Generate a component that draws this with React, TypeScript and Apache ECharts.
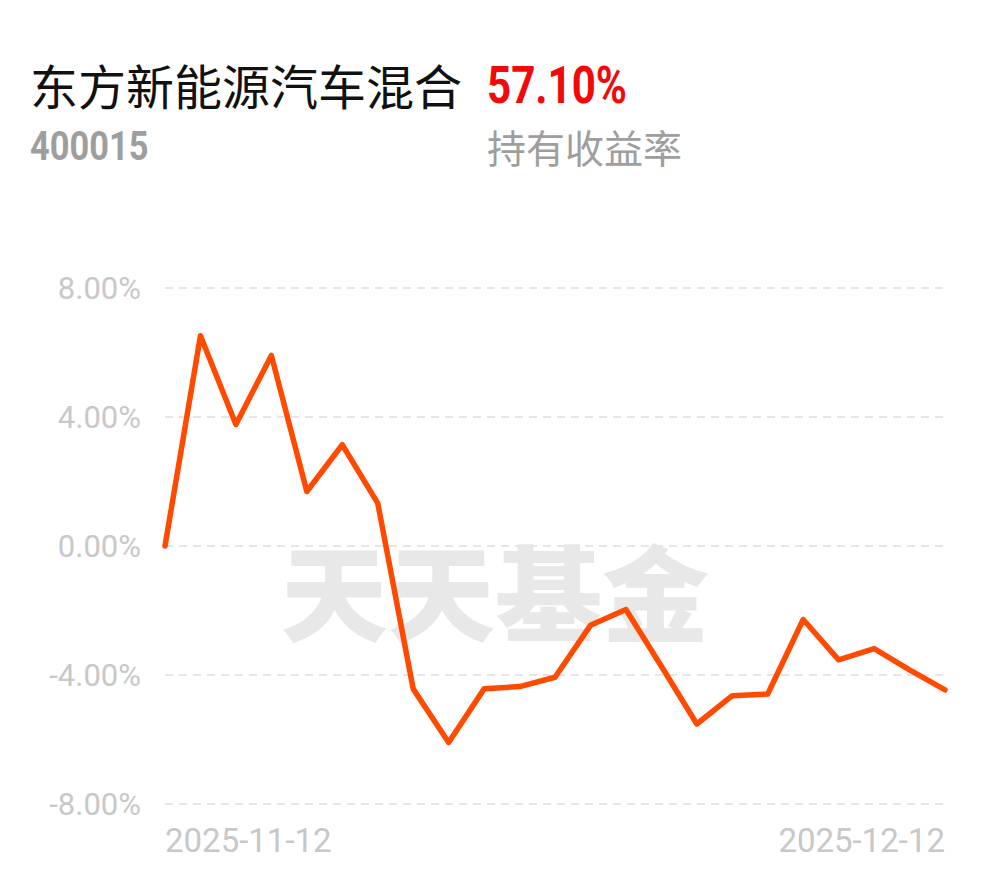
import React, { useEffect, useRef } from "react";
import * as echarts from "echarts";

const dates = [
  "2025-11-12", "2025-11-13", "2025-11-14", "2025-11-17", "2025-11-18", "2025-11-19",
  "2025-11-20", "2025-11-21", "2025-11-24", "2025-11-25", "2025-11-26", "2025-11-27",
  "2025-11-28", "2025-12-01", "2025-12-02", "2025-12-03", "2025-12-04", "2025-12-05",
  "2025-12-08", "2025-12-09", "2025-12-10", "2025-12-11", "2025-12-12",
];
const returns = [
  0.0, 6.52, 3.77, 5.91, 1.69, 3.14, 1.33, -4.43, -6.09, -4.43, -4.36, -4.07,
  -2.46, -1.97, -3.73, -5.52, -4.64, -4.59, -2.28, -3.53, -3.18, -3.84, -4.46,
];
const yTicks = { min: -8, max: 8, interval: 4 };
const fundName = "东方新能源汽车混合";
const fundCode = "400015";
const holdReturn = "57.10%";
const holdLabel = "持有收益率";
const watermark = "天天基金";

export default function App() {
  const ref = useRef<HTMLDivElement>(null);
  useEffect(() => {
    if (!ref.current) return;
    const chart = echarts.init(ref.current, null, { renderer: "svg" });
    const last = dates.length - 1;
    chart.setOption({
      animation: false,
      backgroundColor: "#ffffff",
      grid: { left: 165, right: 45, top: 288, bottom: 74, containLabel: false },
      graphic: [
        {
          type: "text",
          z: 0,
          x: 495,
          y: 589,
          scaleX: 1.03,
          style: {
            text: watermark,
            fontFamily: "Noto Sans CJK SC",
            fontWeight: 900,
            fontSize: 104,
            fill: "#e8e8e8",
            align: "center",
            verticalAlign: "middle",
          },
        },
        {
          type: "text",
          x: 30,
          y: 84,
          style: {
            text: fundName,
            fontFamily: "Noto Sans CJK SC",
            fontSize: 48,
            fill: "#111111",
            verticalAlign: "middle",
          },
        },
        {
          type: "text",
          x: 487,
          y: 85,
          scaleX: 0.81,
          style: {
            text: holdReturn,
            fontFamily: "Roboto",
            fontWeight: "bold",
            fontSize: 52,
            fill: "#f00a0a",
            verticalAlign: "middle",
          },
        },
        {
          type: "text",
          x: 30,
          y: 146,
          scaleX: 0.86,
          style: {
            text: fundCode,
            fontFamily: "Roboto",
            fontWeight: "bold",
            fontSize: 40,
            fill: "#9e9e9e",
            verticalAlign: "middle",
          },
        },
        {
          type: "text",
          x: 487,
          y: 146,
          style: {
            text: holdLabel,
            fontFamily: "Noto Sans CJK SC",
            fontSize: 39,
            fill: "#9e9e9e",
            verticalAlign: "middle",
          },
        },
      ],
      xAxis: {
        type: "category",
        data: dates,
        boundaryGap: false,
        axisLine: { show: false },
        axisTick: { show: false },
        splitLine: { show: false },
        axisLabel: {
          interval: (i: number) => i === 0 || i === last,
          alignMinLabel: "left",
          alignMaxLabel: "right",
          color: "#c8c8c8",
          fontFamily: "Roboto",
          fontSize: 33,
          margin: 20,
        },
      },
      yAxis: {
        type: "value",
        min: yTicks.min,
        max: yTicks.max,
        interval: yTicks.interval,
        axisLine: { show: false },
        axisTick: { show: false },
        axisLabel: {
          formatter: (v: number) => v.toFixed(2) + "%",
          color: "#c8c8c8",
          fontFamily: "Roboto",
          fontSize: 31,
          margin: 24,
        },
        splitLine: {
          lineStyle: { color: "#e6e6e6", width: 2, type: [8, 6] },
        },
      },
      series: [
        {
          type: "line",
          data: returns,
          showSymbol: false,
          symbol: "none",
          z: 5,
          lineStyle: { color: "#ff4a00", width: 5.5, join: "round", cap: "round" },
        },
      ],
    });
    return () => chart.dispose();
  }, []);
  return (
    <div
      ref={ref}
      style={{ position: "fixed", left: 0, top: 0, width: 990, height: 878, background: "#fff" }}
    />
  );
}
